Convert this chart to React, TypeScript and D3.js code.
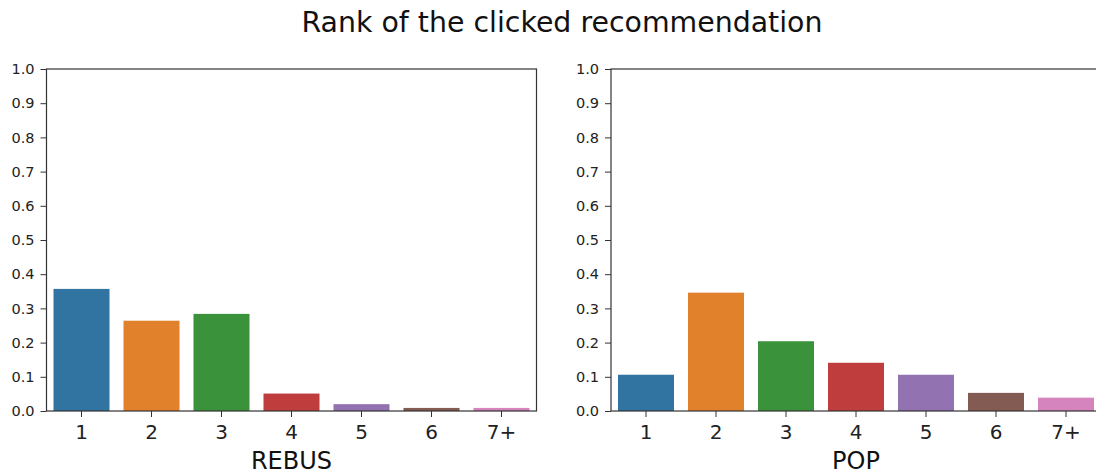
import { useEffect, useRef } from "react";
import * as d3 from "d3";

const ranks = ["1", "2", "3", "4", "5", "6", "7+"];
const rebusValues = [0.357, 0.264, 0.284, 0.051, 0.02, 0.009, 0.009];
const popValues = [0.106, 0.346, 0.204, 0.141, 0.106, 0.053, 0.039];
const yTicks = [0, 0.1, 0.2, 0.3, 0.4, 0.5, 0.6, 0.7, 0.8, 0.9, 1.0];
const colors = ["#3274a1", "#e1812c", "#3a923a", "#c03d3e", "#9372b2", "#845b53", "#d684bd"];

const panels = [
  { name: "REBUS", values: rebusValues, left: 46.5 },
  { name: "POP", values: popValues, left: 611 },
];

const App = () => {
  const svgRef = useRef<SVGSVGElement>(null);

  useEffect(() => {
    const width = 1096;
    const height = 475;
    const top = 69;
    const bottom = 411;
    const plotW = 490;
    const font = "DejaVu Sans, sans-serif";

    const svg = d3.select(svgRef.current);
    svg.selectAll("*").remove();
    svg.attr("width", width).attr("height", height);

    svg.append("rect").attr("width", width).attr("height", height).attr("fill", "#fff");

    // titre
    svg.append("text")
      .attr("x", 562)
      .attr("y", 32)
      .attr("text-anchor", "middle")
      .style("font-family", font)
      .style("font-size", "28.4px")
      .style("fill", "#111")
      .text("Rank of the clicked recommendation");

    const y = d3.scaleLinear().domain([0, 1]).range([bottom, top]);

    panels.forEach(p => {
      const x = d3.scaleBand().domain(ranks).range([p.left, p.left + plotW]).paddingInner(0.2).paddingOuter(0.1);
      const g = svg.append("g");

      g.selectAll(".bar")
        .data(p.values)
        .enter().append("rect")
        .attr("x", (d, i) => x(ranks[i]))
        .attr("y", d => y(d))
        .attr("width", x.bandwidth())
        .attr("height", d => y(0) - y(d))
        .attr("fill", (d, i) => colors[i]);

      // cadre
      g.append("rect")
        .attr("x", p.left)
        .attr("y", top)
        .attr("width", plotW)
        .attr("height", bottom - top)
        .attr("fill", "none")
        .attr("stroke", "#333")
        .attr("stroke-width", 1.2);

      const yAxis = g.append("g")
        .attr("transform", `translate(${p.left},0)`)
        .call(d3.axisLeft(y).tickValues(yTicks).tickFormat(d3.format(".1f")).tickSize(6).tickPadding(6));
      yAxis.select(".domain").remove();
      yAxis.selectAll("line").attr("stroke", "#333");
      yAxis.selectAll("text").style("font-family", font).style("font-size", "14.5px").style("fill", "#222");

      const xAxis = g.append("g")
        .attr("transform", `translate(0,${bottom})`)
        .call(d3.axisBottom(x).tickSize(6).tickPadding(8));
      xAxis.select(".domain").remove();
      xAxis.selectAll("line").attr("stroke", "#333");
      xAxis.selectAll("text").style("font-family", font).style("font-size", "20px").style("fill", "#222");

      g.append("text")
        .attr("x", p.left + plotW / 2)
        .attr("y", 469)
        .attr("text-anchor", "middle")
        .style("font-family", font)
        .style("font-size", "24px")
        .style("fill", "#111")
        .text(p.name);
    });
  }, []);

  return <svg ref={svgRef} style={{ position: "absolute", left: 0, top: 0 }}></svg>;
};

export default App;
